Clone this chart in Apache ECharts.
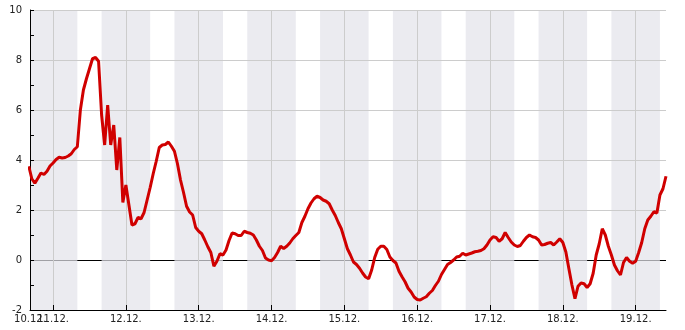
<!DOCTYPE html>
<html><head><meta charset="utf-8">
<script src="https://cdn.jsdelivr.net/npm/echarts@6/dist/echarts.min.js"></script>
<style>html,body{margin:0;padding:0;background:#fff}#c{width:685px;height:330px}</style>
</head><body><div id="c"></div>
<script>
// time in hours since 10.12. 00:00; hourly readings starting 10.12. 16:00
const startHour = 16;
const values = [
  3.75, 3.25, 3.07, 3.27, 3.48, 3.42, 3.55, 3.76, 3.88, 4.02,
  4.11, 4.08, 4.1, 4.16, 4.25, 4.42, 4.53, 6.0, 6.8, 7.25,
  7.65, 8.05, 8.1, 7.95, 5.8, 4.6, 6.2, 4.6, 5.4, 3.6,
  4.9, 2.3, 3.0, 2.2, 1.4, 1.45, 1.7, 1.65, 1.9, 2.4,
  2.9, 3.45, 3.95, 4.5, 4.6, 4.62, 4.72, 4.55, 4.35, 3.85,
  3.2, 2.7, 2.15, 1.92, 1.8, 1.3, 1.15, 1.05, 0.8, 0.53,
  0.3, -0.25, -0.05, 0.25, 0.2, 0.4, 0.78, 1.08, 1.05, 0.98,
  0.98, 1.15, 1.1, 1.07, 1.0, 0.8, 0.55, 0.38, 0.08, 0.0,
  -0.03, 0.1, 0.3, 0.55, 0.46, 0.55, 0.68, 0.85, 0.98, 1.1,
  1.5, 1.75, 2.05, 2.28, 2.45, 2.55, 2.5, 2.4, 2.35, 2.25,
  2.0, 1.78, 1.5, 1.25, 0.85, 0.45, 0.2, -0.08, -0.18, -0.33,
  -0.52, -0.68, -0.75, -0.4, 0.1, 0.43, 0.55, 0.55, 0.42, 0.12,
  -0.02, -0.12, -0.45, -0.67, -0.87, -1.13, -1.28, -1.48, -1.58, -1.6,
  -1.53, -1.47, -1.33, -1.22, -1.02, -0.85, -0.58, -0.38, -0.18, -0.1,
  0.0, 0.12, 0.15, 0.27, 0.2, 0.24, 0.28, 0.33, 0.35, 0.38,
  0.45, 0.6, 0.8, 0.93, 0.9, 0.75, 0.85, 1.1, 0.9, 0.72,
  0.6, 0.54, 0.58, 0.75, 0.9, 1.0, 0.93, 0.9, 0.8, 0.6,
  0.62, 0.67, 0.7, 0.6, 0.72, 0.85, 0.7, 0.32, -0.35, -1.0,
  -1.55, -1.05, -0.92, -0.95, -1.1, -0.95, -0.53, 0.2, 0.65, 1.25,
  1.0, 0.55, 0.2, -0.2, -0.43, -0.6, -0.1, 0.1, -0.05, -0.13,
  -0.05, 0.3, 0.7, 1.25, 1.6, 1.75, 1.93, 1.88, 2.6, 2.85, 3.35
];
const startLabel = '10.12.';
const startLabelHour = 16.4;
const dayLabels = ['11.12.','12.12.','13.12.','14.12.','15.12.','16.12.','17.12.','18.12.','19.12.'];
const midnightHours = [24, 48, 72, 96, 120, 144, 168, 192, 216];
const nightBands = [[16.4,32],[40,56],[64,80],[88,104],[112,128],[136,152],[160,176],[184,200],[208,224]];
const axisMin = 16.4, axisMax = 226;

const data = values.map((v, i) => [startHour + i, v]);
const chart = echarts.init(document.getElementById('c'), null, {renderer: 'canvas'});
const lab = {fontSize: 10, fontFamily: 'DejaVu Sans', color: '#222'};
const nearestLabel = v => { let best = 0; midnightHours.forEach((h, i) => { if (Math.abs(h - v) < Math.abs(midnightHours[best] - v)) best = i; }); return dayLabels[best]; };
chart.setOption({
  animation: false,
  grid: {left: 30, right: 19, top: 10, bottom: 20},
  xAxis: [{
    type: 'value', min: axisMin, max: axisMax, z: 3, position: 'bottom',
    axisLine: {show: true, onZero: false, lineStyle: {color: '#000', width: 1}},
    axisTick: {show: true, inside: true, length: 5, customValues: midnightHours, lineStyle: {color: '#000'}},
    axisLabel: Object.assign({customValues: midnightHours, margin: 4, hideOverlap: false, formatter: nearestLabel}, lab),
    splitLine: {show: true, lineStyle: {color: '#cccccc', width: 1}}
  }, {
    type: 'value', min: axisMin, max: axisMax, z: 3, position: 'bottom', offset: 0,
    axisLine: {show: false, onZero: false},
    axisTick: {show: false},
    axisLabel: Object.assign({customValues: [startLabelHour], margin: 4, showMinLabel: true, formatter: () => startLabel}, lab),
    splitLine: {show: false}
  }],
  yAxis: {
    type: 'value', min: -2, max: 10, interval: 2, z: 3,
    axisLine: {show: true, onZero: false, lineStyle: {color: '#000', width: 1}},
    axisTick: {show: true, inside: true, length: 4, lineStyle: {color: '#000'}},
    minorTick: {show: true, splitNumber: 2, length: 4, lineStyle: {color: '#000'}},
    axisLabel: Object.assign({margin: 8, showMinLabel: true, showMaxLabel: true}, lab),
    splitLine: {show: true, lineStyle: {color: ['#cccccc', 'rgba(0,0,0,0)', '#cccccc', '#cccccc', '#cccccc', '#cccccc', '#cccccc'], width: 1}}
  },
  series: [
    {type: 'line', data: [], silent: true,
     markLine: {silent: true, z: 1, symbol: 'none', label: {show: false},
       lineStyle: {color: '#000', width: 1, type: 'solid'}, data: [{yAxis: 0}]}},
    {type: 'line', data: [], silent: true,
     markArea: {silent: true, z: 2, itemStyle: {color: 'rgba(227,227,234,0.706)'},
       data: nightBands.map(b => [{xAxis: b[0]}, {xAxis: b[1]}])}},
    {type: 'line', data: data, z: 5, symbol: 'none', showSymbol: false, silent: true,
     lineStyle: {color: '#d00000', width: 3}}
  ]
});
</script></body></html>
